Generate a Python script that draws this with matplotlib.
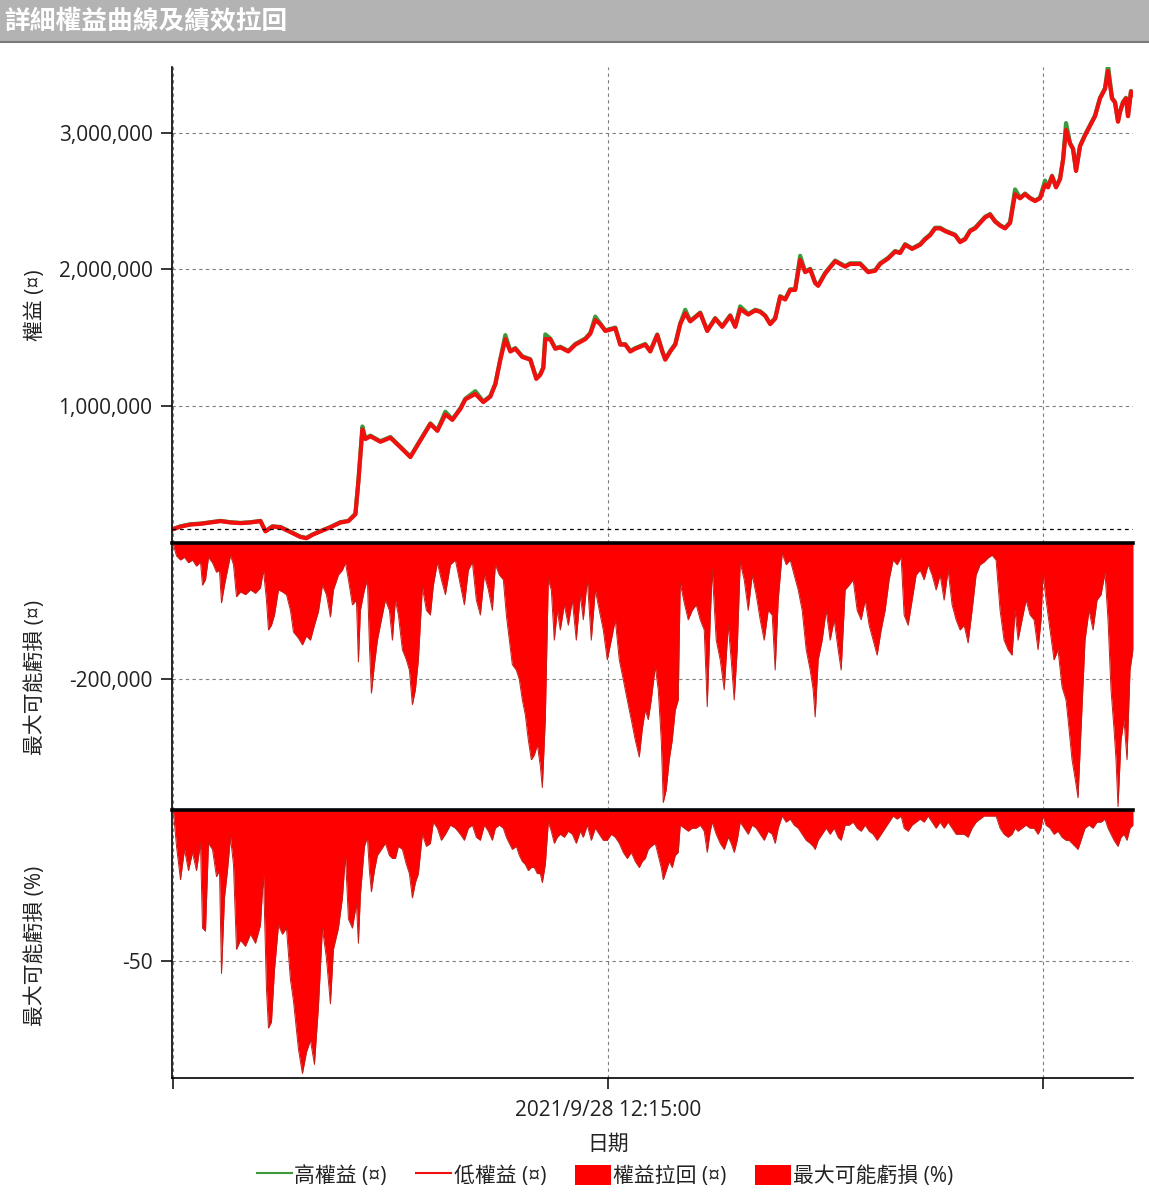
import matplotlib
matplotlib.use("Agg")
import matplotlib.pyplot as plt
import matplotlib.ticker as ticker
from matplotlib.lines import Line2D
from matplotlib.patches import Patch, Rectangle

plt.rcParams["font.family"] = ["Open Sans", "Noto Sans CJK TC", "DejaVu Sans"]

TITLE = "詳細權益曲線及績效拉回"
X_TICKS = [0, 435, 870]
X_TICK_LABELS = ["", "2021/9/28 12:15:00", ""]
START_CAPITAL = 100000

# equity curve (bar offset, low / high equity)
eq_bars = [0, 7, 17, 27, 37, 47, 57, 67, 77, 87,
           92, 99, 107, 117, 127, 133, 139, 147, 157, 167,
           175, 182, 185, 189, 192, 197, 207, 217, 227, 237,
           247, 257, 264, 272, 279, 287, 292, 302, 310, 317,
           322, 327, 332, 337, 342, 349, 357, 363, 367, 370,
           372, 377, 382, 387, 395, 402, 412, 417, 422, 427,
           432, 442, 447, 452, 457, 462, 472, 477, 484, 489,
           492, 497, 502, 507, 512, 517, 527, 534, 542, 549,
           557, 562, 567, 575, 582, 587, 592, 597, 602, 607,
           612, 617, 622, 627, 632, 637, 642, 645, 652, 662,
           672, 677, 687, 695, 702, 707, 715, 722, 727, 732,
           739, 747, 752, 757, 762, 767, 772, 782, 787, 792,
           797, 802, 812, 817, 822, 827, 832, 837, 842, 847,
           852, 857, 862, 867, 872, 875, 879, 883, 887, 890,
           893, 897, 900, 903, 907, 912, 917, 922, 927, 932,
           935, 939, 942, 945, 947, 950, 953, 955, 958, 960]
eq_low = [102000, 120000, 135000, 140000, 150000, 160000, 150000, 145000, 150000, 160000,
          85000, 120000, 115000, 80000, 44000, 35000, 60000, 85000, 115000, 150000,
          160000, 210000, 450000, 830000, 760000, 780000, 740000, 770000, 700000, 628000,
          750000, 870000, 820000, 940000, 900000, 980000, 1050000, 1090000, 1030000, 1070000,
          1160000, 1340000, 1490000, 1400000, 1420000, 1360000, 1340000, 1200000, 1230000, 1280000,
          1490000, 1490000, 1420000, 1430000, 1400000, 1450000, 1490000, 1530000, 1630000, 1600000,
          1550000, 1570000, 1450000, 1450000, 1400000, 1420000, 1450000, 1400000, 1520000, 1400000,
          1340000, 1400000, 1450000, 1600000, 1680000, 1620000, 1680000, 1550000, 1640000, 1580000,
          1660000, 1580000, 1710000, 1670000, 1700000, 1690000, 1660000, 1600000, 1640000, 1800000,
          1780000, 1850000, 1850000, 2070000, 1980000, 2000000, 1900000, 1880000, 1970000, 2060000,
          2020000, 2040000, 2040000, 1980000, 1990000, 2040000, 2080000, 2130000, 2120000, 2180000,
          2150000, 2180000, 2220000, 2250000, 2300000, 2300000, 2280000, 2250000, 2200000, 2220000,
          2280000, 2300000, 2380000, 2400000, 2350000, 2320000, 2300000, 2340000, 2550000, 2520000,
          2550000, 2520000, 2500000, 2520000, 2620000, 2600000, 2680000, 2600000, 2660000, 2800000,
          3020000, 2920000, 2880000, 2720000, 2900000, 2980000, 3050000, 3120000, 3250000, 3320000,
          3450000, 3250000, 3220000, 3080000, 3150000, 3220000, 3250000, 3120000, 3300000, 3280000]
eq_high = [104000, 122000, 137000, 142000, 152000, 162000, 152000, 147000, 152000, 162000,
           87000, 122000, 117000, 82000, 46000, 37000, 62000, 87000, 117000, 152000,
           162000, 214000, 455000, 852000, 764000, 785000, 744000, 775000, 704000, 632000,
           754000, 875000, 824000, 960000, 904000, 985000, 1055000, 1110000, 1034000, 1075000,
           1165000, 1345000, 1520000, 1404000, 1425000, 1365000, 1344000, 1204000, 1235000, 1285000,
           1525000, 1495000, 1424000, 1435000, 1404000, 1455000, 1495000, 1535000, 1655000, 1604000,
           1555000, 1575000, 1454000, 1454000, 1404000, 1425000, 1455000, 1404000, 1525000, 1404000,
           1344000, 1404000, 1455000, 1605000, 1705000, 1624000, 1685000, 1554000, 1645000, 1584000,
           1665000, 1584000, 1730000, 1674000, 1705000, 1694000, 1664000, 1604000, 1645000, 1805000,
           1784000, 1855000, 1855000, 2100000, 1984000, 2005000, 1904000, 1884000, 1975000, 2065000,
           2024000, 2045000, 2045000, 1984000, 1995000, 2045000, 2085000, 2135000, 2124000, 2185000,
           2154000, 2185000, 2225000, 2255000, 2305000, 2305000, 2284000, 2254000, 2204000, 2225000,
           2285000, 2305000, 2385000, 2405000, 2354000, 2324000, 2304000, 2345000, 2585000, 2524000,
           2555000, 2524000, 2504000, 2525000, 2650000, 2604000, 2685000, 2604000, 2665000, 2805000,
           3070000, 2924000, 2884000, 2724000, 2905000, 2985000, 3055000, 3125000, 3255000, 3325000,
           3490000, 3254000, 3225000, 3084000, 3155000, 3225000, 3255000, 3124000, 3305000, 3285000]

# drawdown series (bar offset, cash drawdown, percent drawdown)
dd_bars = [0, 3, 7, 11, 15, 19, 23, 27, 29, 32,
           35, 39, 43, 46, 48, 51, 54, 57, 60, 63,
           67, 72, 77, 82, 87, 90, 93, 95, 98, 101,
           105, 109, 113, 117, 120, 125, 129, 133, 137, 141,
           145, 149, 153, 157, 160, 165, 169, 172, 175, 179,
           183, 185, 187, 191, 194, 196, 198, 201, 204, 208,
           212, 216, 219, 222, 225, 229, 233, 236, 239, 242,
           245, 249, 253, 257, 260, 264, 268, 272, 277, 282,
           287, 291, 295, 299, 303, 307, 311, 315, 319, 322,
           326, 330, 333, 336, 339, 343, 346, 349, 352, 355,
           358, 361, 364, 367, 369, 372, 375, 378, 381, 384,
           387, 391, 395, 399, 403, 407, 410, 414, 418, 422,
           426, 430, 434, 438, 442, 446, 450, 454, 458, 462,
           466, 469, 472, 475, 478, 482, 485, 488, 490, 493,
           496, 499, 502, 505, 507, 511, 515, 519, 523, 527,
           531, 534, 537, 539, 543, 547, 551, 555, 558, 561,
           564, 567, 571, 575, 579, 583, 587, 591, 595, 599,
           602, 605, 609, 613, 617, 621, 625, 629, 633, 637,
           640, 642, 645, 649, 653, 657, 661, 665, 668, 672,
           676, 680, 684, 688, 692, 696, 700, 704, 708, 712,
           716, 720, 724, 728, 731, 735, 739, 743, 747, 751,
           755, 759, 763, 767, 771, 775, 779, 783, 787, 791,
           795, 799, 803, 807, 811, 815, 819, 823, 827, 831,
           835, 839, 842, 845, 849, 853, 857, 861, 865, 868,
           870, 873, 877, 881, 885, 889, 893, 896, 899, 902,
           905, 908, 912, 916, 920, 924, 928, 932, 935, 938,
           941, 943, 945, 948, 951, 954, 957, 960]
dd_cash = [-3000, -19000, -25000, -21000, -29000, -25000, -34000, -28000, -62000, -54000,
           -21000, -29000, -43000, -40000, -88000, -62000, -40000, -18000, -32000, -79000,
           -72000, -76000, -69000, -74000, -66000, -40000, -84000, -128000, -121000, -106000,
           -69000, -72000, -76000, -99000, -131000, -140000, -150000, -137000, -143000, -121000,
           -101000, -62000, -76000, -109000, -69000, -47000, -40000, -29000, -54000, -91000,
           -84000, -175000, -99000, -69000, -54000, -150000, -221000, -179000, -143000, -113000,
           -84000, -99000, -143000, -84000, -106000, -157000, -172000, -187000, -238000, -216000,
           -172000, -65000, -99000, -106000, -62000, -29000, -54000, -76000, -32000, -25000,
           -62000, -91000, -40000, -28000, -84000, -106000, -47000, -69000, -99000, -32000,
           -47000, -54000, -106000, -143000, -179000, -187000, -201000, -231000, -253000, -290000,
           -319000, -312000, -297000, -328000, -360000, -260000, -54000, -69000, -143000, -99000,
           -128000, -91000, -121000, -84000, -143000, -76000, -113000, -54000, -143000, -69000,
           -99000, -128000, -172000, -143000, -113000, -172000, -201000, -231000, -260000, -290000,
           -315000, -274000, -246000, -260000, -231000, -182000, -216000, -290000, -382000, -363000,
           -319000, -290000, -246000, -231000, -59000, -88000, -113000, -99000, -91000, -113000,
           -128000, -241000, -113000, -40000, -143000, -172000, -216000, -121000, -172000, -231000,
           -157000, -29000, -54000, -99000, -47000, -76000, -113000, -143000, -99000, -106000,
           -187000, -84000, -15000, -32000, -25000, -47000, -69000, -99000, -157000, -187000,
           -216000, -256000, -172000, -143000, -99000, -143000, -113000, -157000, -187000, -69000,
           -62000, -54000, -99000, -113000, -84000, -121000, -143000, -165000, -128000, -99000,
           -54000, -25000, -32000, -21000, -106000, -121000, -84000, -47000, -40000, -54000,
           -32000, -47000, -69000, -47000, -84000, -40000, -91000, -113000, -128000, -121000,
           -147000, -99000, -47000, -32000, -28000, -22000, -18000, -25000, -99000, -143000,
           -157000, -165000, -99000, -143000, -113000, -84000, -106000, -113000, -157000, -113000,
           -44000, -84000, -128000, -172000, -157000, -212000, -231000, -274000, -319000, -346000,
           -375000, -274000, -143000, -99000, -128000, -84000, -76000, -44000, -113000, -216000,
           -274000, -319000, -388000, -290000, -260000, -319000, -187000, -157000]
dd_pct = [-0.7, -12, -23, -13, -20, -14, -20, -11, -39, -40,
          -11, -13, -22, -20, -54, -29, -20, -9, -18, -46,
          -43, -45, -41, -44, -38, -21, -59, -72, -70, -53,
          -38, -41, -39, -56, -63, -79, -87, -80, -76, -84,
          -65, -39, -49, -64, -46, -39, -29, -15, -36, -39,
          -31, -44, -28, -12, -9, -20, -27, -20, -15, -13,
          -11, -15, -16, -16, -12, -13, -18, -21, -29, -24,
          -21, -8, -12, -11, -4, -6, -10, -8, -5, -6,
          -8, -10, -6, -5, -9, -10, -5, -7, -10, -6,
          -5, -6, -9, -11, -13, -12, -15, -17, -18, -20,
          -19, -19, -21, -21, -24, -18, -4, -7, -11, -9,
          -8, -9, -7, -8, -11, -7, -9, -5, -10, -6,
          -8, -10, -10, -8, -9, -11, -14, -16, -14, -17,
          -19, -17, -16, -13, -12, -11, -15, -19, -23, -20,
          -17, -19, -15, -14, -5, -6, -7, -6, -6, -5,
          -7, -14, -7, -4, -8, -11, -13, -9, -11, -14,
          -10, -4, -6, -8, -5, -6, -8, -10, -7, -8,
          -11, -6, -2, -4, -3, -5, -6, -8, -10, -11,
          -12, -13, -10, -8, -6, -8, -6, -9, -10, -5,
          -5, -4, -6, -7, -5, -7, -8, -10, -8, -6,
          -4, -2, -3, -2, -6, -7, -5, -4, -3, -4,
          -2, -4, -6, -4, -6, -4, -6, -8, -8, -8,
          -9, -6, -4, -3, -2, -2, -2, -2, -6, -8,
          -9, -8, -6, -7, -6, -5, -6, -6, -8, -6,
          -2, -5, -6, -8, -7, -9, -10, -10, -11, -12,
          -13, -10, -6, -5, -6, -4, -4, -3, -6, -8,
          -10, -11, -12, -9, -8, -10, -6, -5]

# 畫布
fig = plt.figure(figsize=(11.49, 11.93), dpi=100)

# 標題列
fig.patches.append(Rectangle((0, 1 - 42 / 1193), 1, 42 / 1193, transform=fig.transFigure,
                             facecolor="#b3b3b3", edgecolor="none", zorder=0))
fig.add_artist(Line2D([0, 1], [1 - 42 / 1193] * 2, transform=fig.transFigure,
                      color="#7a7a7a", lw=1.5))
fig.text(0.004, 1 - 21 / 1193, TITLE, color="white", fontsize=18.5, fontweight="bold",
         family=["Noto Sans CJK TC"], ha="left", va="center")

left, width = 172 / 1149, (1133 - 172) / 1149
ax1 = fig.add_axes([left, 1 - 543 / 1193, width, (543 - 67) / 1193])
ax2 = fig.add_axes([left, 1 - 810 / 1193, width, (810 - 543) / 1193], sharex=ax1)
ax3 = fig.add_axes([left, 1 - 1078 / 1193, width, (1078 - 810) / 1193], sharex=ax1)

grid_kw = dict(color="#7f7f7f", linestyle=(0, (3, 3)), linewidth=0.8)
fmt = ticker.FuncFormatter(lambda v, pos: "{:,.0f}".format(v))

# 權益
ax1.plot(eq_bars, eq_high, color="#3c9a3c", lw=3.0, solid_joinstyle="round")
ax1.plot(eq_bars, eq_low, color="#f01010", lw=3.0, solid_joinstyle="round")
ax1.axhline(START_CAPITAL, color="black", linestyle=(0, (3, 3)), lw=0.9)
ax1.set_ylim(0, 3480000)
ax1.set_yticks([1000000, 2000000, 3000000])
ax1.yaxis.set_major_formatter(fmt)

# 權益拉回
ax2.fill_between(dd_bars, dd_cash, 0, color="#ff0000", lw=0)
ax2.plot(dd_bars, dd_cash, color="#c0201a", lw=0.7)
ax2.set_ylim(-393000, 0)
ax2.set_yticks([-200000])
ax2.yaxis.set_major_formatter(fmt)

# 最大可能虧損 (%)
ax3.fill_between(dd_bars, dd_pct, 0, color="#ff0000", lw=0)
ax3.plot(dd_bars, dd_pct, color="#c0201a", lw=0.7)
ax3.set_ylim(-88.5, 0)
ax3.set_yticks([-50])
ax3.yaxis.set_major_formatter(ticker.FuncFormatter(lambda v, pos: "{:.0f}".format(v)))

for ax in (ax1, ax2, ax3):
    ax.set_xlim(-1.5, 960)
    ax.grid(True, **grid_kw)
    ax.set_axisbelow(True)
    for s in ("right", "top", "bottom"):
        ax.spines[s].set_visible(False)
    ax.spines["left"].set_linewidth(1.2)
    ax.tick_params(axis="y", length=8, width=1.1, labelsize=15, pad=6, labelcolor="#222222")
    ax.tick_params(axis="x", length=0, labelbottom=False)

ax2.spines["top"].set_visible(True)
ax2.spines["top"].set_linewidth(2.6)
ax3.spines["top"].set_visible(True)
ax3.spines["top"].set_linewidth(2.6)
ax3.spines["bottom"].set_visible(True)
ax3.spines["bottom"].set_linewidth(1.2)
ax3.set_xticks(X_TICKS)
ax3.set_xticklabels(X_TICK_LABELS)
ax3.tick_params(axis="x", length=8, width=1.1, labelbottom=True, labelsize=15, pad=8,
                labelcolor="#222222")

# 軸標籤
lab_kw = dict(rotation=90, ha="center", va="center", fontsize=15, color="#222222")
fig.text(0.0305, 1 - 305 / 1193, "權益 (¤)", **lab_kw)
fig.text(0.0305, 1 - 677 / 1193, "最大可能虧損 (¤)", **lab_kw)
fig.text(0.0305, 1 - 946 / 1193, "最大可能虧損 (%)", **lab_kw)
fig.text(608 / 1149, 1 - 1144 / 1193, "日期", ha="center", va="center", fontsize=15,
         color="#222222")

handles = [
    Line2D([], [], color="#3c9a3c", lw=1.5),
    Line2D([], [], color="#f01010", lw=1.5),
    Patch(facecolor="#ff0000", edgecolor="none"),
    Patch(facecolor="#ff0000", edgecolor="none"),
]
labels = ["高權益 (¤)", "低權益 (¤)", "權益拉回 (¤)", "最大可能虧損 (%)"]
leg = fig.legend(handles, labels, loc="center", bbox_to_anchor=(0.5265, 1 - 1176 / 1193), ncol=4,
                 frameon=False, fontsize=15, handlelength=1.7, handleheight=1.15,
                 handletextpad=0.1, columnspacing=1.4, borderpad=0)
for t in leg.get_texts():
    t.set_color("#222222")

fig.savefig("out.png", dpi=100)
